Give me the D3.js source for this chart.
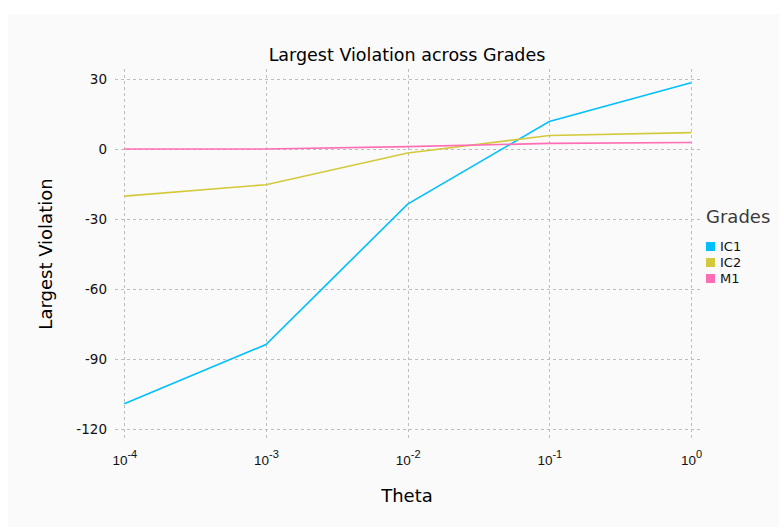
<!DOCTYPE html>
<html><head><meta charset="utf-8">
<script src="https://cdn.jsdelivr.net/npm/d3@7"></script>
<style>
html,body{margin:0;padding:0;background:#fff;}
svg{display:block;font-family:"DejaVu Sans",Verdana,sans-serif;}
</style></head>
<body><svg id="c" width="779" height="528"></svg>
<script>
const thetas = [1e-4, 1e-3, 1e-2, 1e-1, 1];
const seriesNames = ["IC1", "IC2", "M1"];
const ic1 = [-109.2, -83.8, -23.6, 11.8, 28.4];
const ic2 = [-20.2, -15.3, -1.7, 5.8, 7.0];
const m1  = [0.0, 0.0, 1.0, 2.4, 2.8];
const colors = ["#00bfff", "#d4c93a", "#ff6eb4"];
const yTicks = [30, 0, -30, -60, -90, -120];
const xTickExps = ["-4", "-3", "-2", "-1", "0"];
const title = "Largest Violation across Grades";
const xLabel = "Theta", yLabel = "Largest Violation", legendTitle = "Grades";

const svg = d3.select("#c");
svg.append("rect").attr("x",8).attr("y",14).attr("width",771).attr("height",513).attr("fill","#fafafa");

const x = d3.scaleLog().domain([1e-4, 1]).range([124.3, 691]);
const y = d3.scaleLinear().domain([-120, 30]).range([429, 79]);
const L = 115, R = 700, T = 69, B = 438;

const grid = svg.append("g").attr("stroke","#bdbdbd").attr("stroke-dasharray","3,3").attr("stroke-width",1);
yTicks.forEach(v => grid.append("line").attr("x1",L).attr("x2",R).attr("y1",Math.round(y(v))+0.5).attr("y2",Math.round(y(v))+0.5));
thetas.forEach(t => grid.append("line").attr("y1",T).attr("y2",B).attr("x1",Math.round(x(t))+0.5).attr("x2",Math.round(x(t))+0.5));

const ya = d3.axisLeft(y).tickValues(yTicks).tickSize(0).tickPadding(8).tickFormat(d => String(d));
const yg = svg.append("g").attr("transform",`translate(${L},0)`).call(ya);
yg.select(".domain").remove();
yg.selectAll("text").attr("font-size",13.5).attr("fill","#111").attr("font-family","DejaVu Sans, sans-serif");

const xa = d3.axisBottom(x).tickValues(thetas).tickSize(0).tickFormat(() => "");
const xg = svg.append("g").attr("transform",`translate(0,${B})`).call(xa);
xg.select(".domain").remove();
xg.selectAll(".tick").each(function(d, i){
  const t = d3.select(this).append("text").attr("y",27).attr("fill","#111").attr("font-size",13.5).attr("text-anchor","middle");
  t.append("tspan").text("10");
  t.append("tspan").attr("dy",-7).attr("font-size",11).text(xTickExps[i]);
});

const data = [ic1, ic2, m1];
const line = d3.line().x((d,i)=>x(thetas[i])).y(d=>y(d));
data.forEach((s,k) => svg.append("path").attr("d",line(s)).attr("fill","none").attr("stroke",colors[k]).attr("stroke-width",1.6));

svg.append("text").attr("x",407).attr("y",61).attr("text-anchor","middle").attr("font-size",17.5).attr("fill","#000").text(title);
svg.append("text").attr("x",407).attr("y",502).attr("text-anchor","middle").attr("font-size",18).attr("fill","#000").text(xLabel);
svg.append("text").attr("transform","translate(52,254) rotate(-90)").attr("text-anchor","middle").attr("font-size",18).attr("fill","#000").text(yLabel);

svg.append("text").attr("x",706).attr("y",223).attr("font-size",18).attr("fill","#3a3a3a").text(legendTitle);
const lg = svg.append("g");
seriesNames.forEach((n,k) => {
  lg.append("rect").attr("x",706).attr("y",242+k*16).attr("width",9).attr("height",9).attr("fill",colors[k]);
  lg.append("text").attr("x",720).attr("y",251+k*16).attr("font-size",13).attr("fill","#111").text(n);
});
</script></body></html>
